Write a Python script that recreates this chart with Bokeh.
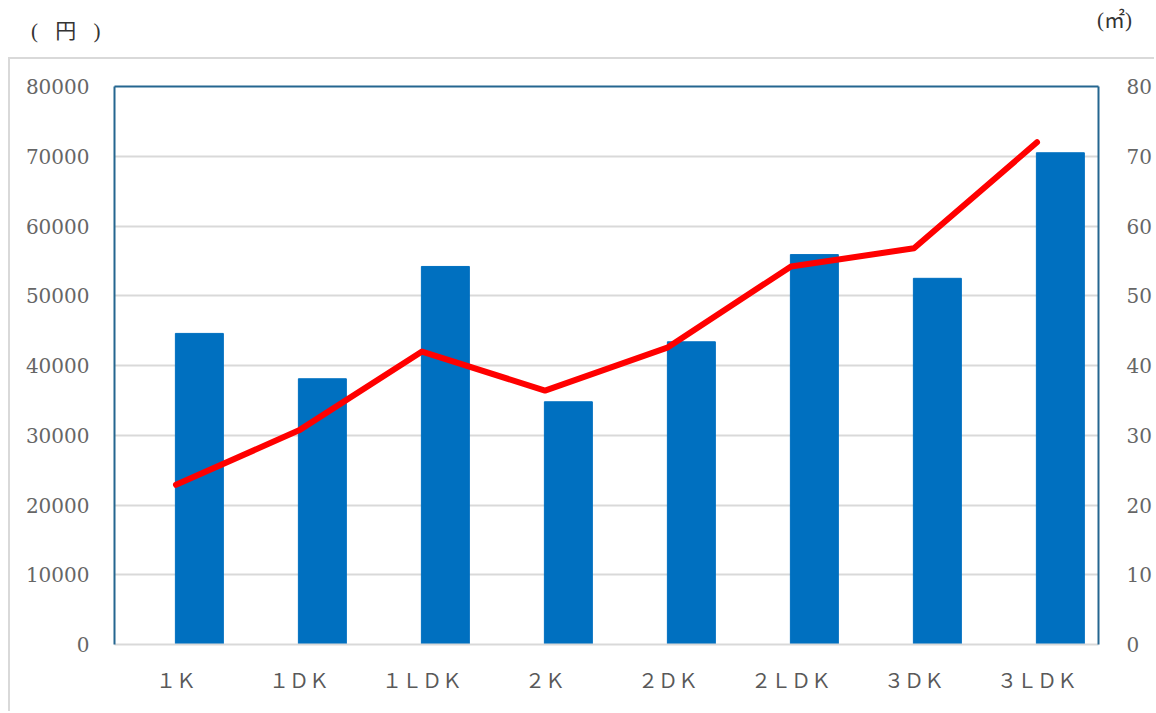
from bokeh.plotting import figure
from bokeh.models import (FactorRange, Range1d, LinearAxis, Div,
                          ColumnDataSource, SingleIntervalTicker, NumeralTickFormatter,
                          FixedTicker)
from bokeh.layouts import column
from bokeh.transform import dodge
from bokeh.embed import file_html
from bokeh.resources import INLINE

categories = ["１Ｋ", "１ＤＫ", "１ＬＤＫ", "２Ｋ", "２ＤＫ", "２ＬＤＫ", "３ＤＫ", "３ＬＤＫ"]
rent_yen = [44600, 38100, 54200, 34800, 43400, 55900, 52500, 70500]
area_m2 = [22.9, 30.7, 42.0, 36.4, 42.6, 54.2, 56.8, 72.0]
left_label = "( 円 )"
right_label = "(㎡)"

src = ColumnDataSource(dict(cat=categories, rent=rent_yen, area=area_m2))

W, H = 1156, 713
BOX_X, BOX_Y = 8, 57
CX, CY = BOX_X + 2, BOX_Y + 2
FL, FR, FT, FB = 114, 1098, 86, 644
CW, CH = W - CX, H - CY

p = figure(width=CW, height=CH, x_range=FactorRange(*categories, range_padding=0),
           y_range=Range1d(0, 80000), output_backend="svg", toolbar_location=None,
           min_border_left=FL - CX, min_border_right=W - FR, min_border_top=FT - CY,
           min_border_bottom=H - FB, margin=(0, 0, 0, BOX_X),
           styles={"border-left": "2px solid #D9D9D9", "border-top": "2px solid #D9D9D9"})
p.outline_line_color = None
p.background_fill_color = "white"
p.border_fill_color = "white"

p.extra_y_ranges = {"area": Range1d(0, 80)}

tick_color = "#666666"
blue_line = "#256690"
num_font = "DejaVu Serif"

bx = p.below[0]
bx.axis_line_color = "#D9D9D9"
bx.axis_line_width = 2
bx.major_tick_line_color = None
bx.minor_tick_line_color = None
bx.major_label_text_color = "#595959"
bx.major_label_text_font = "Noto Sans CJK JP"
bx.major_label_text_font_size = "20px"
bx.major_label_standoff = 14

ax = p.left[0]
ax.ticker = SingleIntervalTicker(interval=10000)
ax.formatter = NumeralTickFormatter(format="0")
ax.axis_line_color = blue_line
ax.axis_line_width = 2
ax.major_tick_line_color = None
ax.minor_tick_line_color = None
ax.major_label_text_color = tick_color
ax.major_label_text_font = num_font
ax.major_label_text_font_size = "20px"
ax.major_label_standoff = 19

rax = LinearAxis(y_range_name="area", ticker=SingleIntervalTicker(interval=10))
rax.axis_line_color = blue_line
rax.axis_line_width = 2
rax.major_tick_line_color = None
rax.minor_tick_line_color = None
rax.major_label_text_color = tick_color
rax.major_label_text_font = num_font
rax.major_label_text_font_size = "20px"
rax.major_label_standoff = 22
p.add_layout(rax, "right")

tax = LinearAxis(ticker=FixedTicker(ticks=[]))
tax.axis_line_color = blue_line
tax.axis_line_width = 2
tax.major_tick_line_color = None
tax.minor_tick_line_color = None
p.add_layout(tax, "above")

p.xgrid.grid_line_color = None
p.ygrid.grid_line_color = "#D9D9D9"
p.ygrid.grid_line_width = 2

p.vbar(x=dodge("cat", 0.19, range=p.x_range), top="rent", width=0.39,
       source=src, color="#0070C0")
p.line(x="cat", y="area", source=src,
       y_range_name="area", line_color="#FF0000", line_width=6,
       line_join="round", line_cap="round")

header_html = (
    '<div style="position:relative;width:%dpx;height:%dpx;">'
    '<span style="position:absolute;left:31px;top:16px;font-family:\'Liberation Serif\',\'Noto Sans CJK JP\';'
    'font-size:21px;color:#333333;white-space:pre;letter-spacing:6px;">%s</span>'
    '<span style="position:absolute;left:1097px;top:5px;font-family:\'Liberation Serif\',\'Noto Sans CJK JP\';'
    'font-size:21px;color:#333333;white-space:pre;">%s</span>'
    '</div>' % (W, BOX_Y, left_label, right_label)
)
header = Div(text=header_html, width=W, height=BOX_Y, margin=(0, 0, 0, 0))

layout = column(header, p, spacing=0, margin=(0, 0, 0, 0))

open("out.html", "w").write(file_html(layout, INLINE))
